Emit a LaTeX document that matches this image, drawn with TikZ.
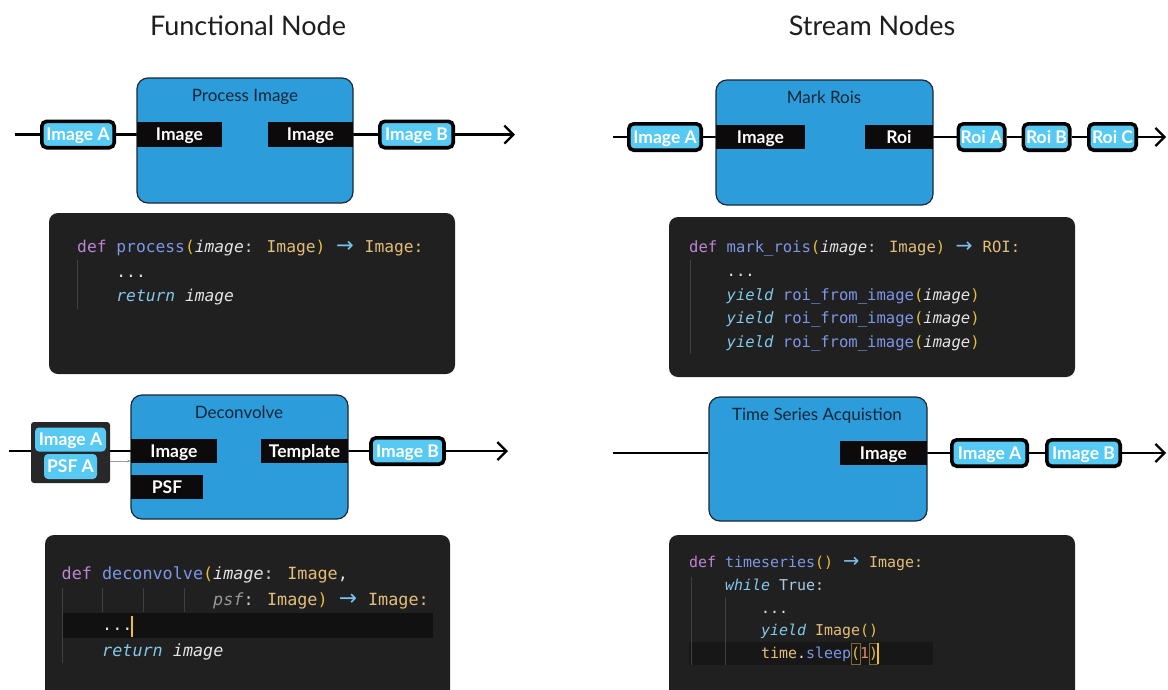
\documentclass[tikz,border=0pt]{standalone}
\usepackage{fontspec}
\usepackage{graphicx}
\setmainfont{Lato}
\newfontfamily\codefont{DejaVu Sans Mono}
\newfontfamily\arrowfont{DejaVu Sans}
\usetikzlibrary{arrows.meta}
\pgfdeclarelayer{paper}
\pgfdeclarelayer{wires}
\pgfsetlayers{paper,wires,main}

% node colours
\definecolor{boxblue}{RGB}{45,156,218}
\definecolor{boxedge}{RGB}{28,40,52}
\definecolor{titleink}{RGB}{22,38,56}
\definecolor{headink}{RGB}{30,30,30}
\definecolor{portink}{RGB}{12,10,10}
\definecolor{chipblue}{RGB}{86,202,242}
\definecolor{groupgray}{RGB}{40,40,40}
% editor colours
\definecolor{panel}{RGB}{32,32,32}
\definecolor{guidegray}{RGB}{64,64,64}
\definecolor{curline}{RGB}{17,17,17}
\definecolor{cursorink}{RGB}{242,190,40}
\definecolor{matchbox}{RGB}{125,108,50}
\definecolor{ckw}{RGB}{190,132,212}
\definecolor{cfn}{RGB}{125,150,230}
\definecolor{cpar}{RGB}{232,190,60}
\definecolor{cvar}{RGB}{228,228,228}
\definecolor{cpunc}{RGB}{200,205,215}
\definecolor{ctype}{RGB}{228,190,120}
\definecolor{carr}{RGB}{120,195,235}
\definecolor{cctl}{RGB}{130,200,235}
\definecolor{cdim}{RGB}{150,150,150}
\definecolor{cnum}{RGB}{235,135,105}
\definecolor{ctrue}{RGB}{165,205,232}

% syntax helpers
\newcommand\cxK[1]{\textcolor{ckw}{#1}}
\newcommand\cxF[1]{\textcolor{cfn}{#1}}
\newcommand\cxP[1]{\textcolor{cpar}{#1}}
\newcommand\cxV[1]{\textcolor{cvar}{\itshape #1}}
\newcommand\cxU[1]{\textcolor{cpunc}{#1}}
\newcommand\cxT[1]{\textcolor{ctype}{#1}}
\newcommand\cxA{\textcolor{carr}{\makebox[1.204em]{\arrowfont\scalebox{1.3}{→}}}}
\newcommand\cxC[1]{\textcolor{cctl}{\itshape #1}}
\newcommand\cxD[1]{\textcolor{cdim}{\itshape #1}}
\newcommand\cxN[1]{\textcolor{cnum}{#1}}
\newcommand\cxW[1]{\textcolor{cvar}{#1}}

\tikzset{
  blk/.style={draw=boxedge, line width=1.2pt, fill=boxblue, rounded corners=11pt, inner sep=0pt},
  ttl/.style={text=titleink, inner sep=0pt, text height=12.2pt, text depth=0pt,
    font=\fontsize{17}{20}\selectfont},
  head/.style={text=headink, inner sep=0pt, text height=19.4pt, text depth=0pt,
    font=\fontsize{27}{32}\selectfont},
  port/.style={fill=portink, inner sep=0pt, minimum height=24.5pt, text=white,
    text height=12.6pt, text depth=0pt, font=\bfseries\fontsize{17.5}{20}\selectfont},
  chip/.style={draw=black, line width=3.6pt, fill=chipblue, rounded corners=5pt, inner sep=0pt,
    minimum height=26.4pt, text=white, text height=12.6pt, text depth=0pt,
    font=\bfseries\fontsize{17.5}{20}\selectfont},
  subchip/.style={fill=chipblue, rounded corners=4pt, inner sep=0pt, minimum height=24pt,
    text=white, text height=12.6pt, text depth=0pt, font=\bfseries\fontsize{17.5}{20}\selectfont},
  wire/.style={line width=2.3pt, draw=black},
  flow/.style={wire, -{Straight Barb[length=9pt,width=18pt]}},
  codepanel/.style={fill=panel, rounded corners=9pt},
  guide/.style={draw=guidegray, line width=0.9pt},
  codeline/.style={anchor=base west, inner sep=0pt, text=cvar},
  codeA/.style={codeline, font=\codefont\fontsize{16.28}{20}\selectfont},
  codeB/.style={codeline, font=\codefont\fontsize{15.56}{20}\selectfont},
  codeC/.style={codeline, font=\codefont\fontsize{16.78}{20}\selectfont},
  codeD/.style={codeline, font=\codefont\fontsize{14.95}{20}\selectfont},
}

\begin{document}
\begin{tikzpicture}[x=1pt,y=-1pt]
\useasboundingbox (0,0) rectangle (1168,689);
\begin{pgfonlayer}{paper}
  \fill[white] (0,0) rectangle (1168,689);
\end{pgfonlayer}

% ---------- headings ----------
\node[head] (hFun) at (248,26) {Functional Node};
\node[head] (hStr) at (872,26) {Stream Nodes};

% ---------- Process Image ----------
\node[blk, minimum width=216pt, minimum height=125pt] (proc) at (245,140.5) {};
\node[ttl] (procT) at (245,95) {Process Image};
\node[port, minimum width=85pt] (procIn) at (179.5,134.5) {Image};
\node[port, minimum width=85pt] (procOut) at (310.5,134.5) {Image};
\node[chip, minimum width=72.4pt] (pA) at (78,134.5) {Image A};
\node[chip, minimum width=73.4pt] (pB) at (416.5,134.5) {Image B};
\coordinate (pS) at (15,134.5);
\coordinate (pE) at (515,134.5);
\begin{pgfonlayer}{wires}
  \draw[wire] (pS) -- (pA.west);
  \draw[wire] (pA.east) -- (procIn.west);
  \draw[wire] (procOut.east) -- (pB.west);
  \draw[flow] (pB.east) -- (pE);
\end{pgfonlayer}

% ---------- Mark Rois ----------
\node[blk, minimum width=217pt, minimum height=125pt] (mark) at (824.5,142.5) {};
\node[ttl] (markT) at (824,97) {Mark Rois};
\node[port, minimum width=89pt] (markIn) at (760.5,137) {Image};
\node[port, minimum width=68pt] (markOut) at (899,137) {Roi};
\node[chip, minimum width=72.4pt] (mA) at (665,137) {Image A};
\node[chip, minimum width=46.4pt] (rA) at (981.5,137) {Roi A};
\node[chip, minimum width=46.4pt] (rB) at (1046.5,137) {Roi B};
\node[chip, minimum width=47.4pt] (rC) at (1112.5,137) {Roi C};
\coordinate (mS) at (613,137);
\coordinate (mE) at (1166,137);
\begin{pgfonlayer}{wires}
  \draw[wire] (mS) -- (mA.west);
  \draw[wire] (mA.east) -- (markIn.west);
  \draw[wire] (markOut.east) -- (rA.west);
  \draw[wire] (rA.east) -- (rB.west);
  \draw[wire] (rB.east) -- (rC.west);
  \draw[flow] (rC.east) -- (mE);
\end{pgfonlayer}

% ---------- Deconvolve ----------
\node[blk, minimum width=217pt, minimum height=124pt] (dec) at (239.5,457) {};
\node[ttl] (decT) at (239,412) {Deconvolve};
\node[port, minimum width=86pt] (decIn) at (174,451) {Image};
\node[port, minimum width=72pt] (decPsf) at (167,487) {PSF};
\node[port, minimum width=87pt] (decOut) at (304.5,451) {Template};
\node[fill=groupgray, rounded corners=3pt, minimum width=79pt, minimum height=61pt, inner sep=0pt]
  (grp) at (70.5,452.5) {};
\node[subchip, minimum width=71pt] (gA) at (70.5,439.5) {Image A};
\node[subchip, minimum width=53pt, minimum height=25pt] (gP) at (70.5,466.5) {PSF A};
\node[chip, minimum width=73pt] (dB) at (407.5,451) {Image B};
\coordinate (dS) at (9,451);
\coordinate (dE) at (508,451);
\begin{pgfonlayer}{wires}
  \draw[wire] (dS) -- (decIn.west);
  \draw[wire] (decOut.east) -- (dB.west);
  \draw[flow] (dB.east) -- (dE);
\end{pgfonlayer}
\draw[draw=gray!80, line width=0.8pt, -{Stealth[length=3pt,width=3pt]}]
  ([yshift=-8.5pt]grp.east) -- ([yshift=-8.5pt]grp.east -| dec.west);

% ---------- Time Series Acquistion ----------
\node[blk, minimum width=218pt, minimum height=124pt] (ts) at (818,459) {};
\node[ttl] (tsT) at (817,414) {Time Series Acquistion};
\node[port, minimum width=87pt] (tsOut) at (883.5,453) {Image};
\node[chip, minimum width=75.4pt] (tA) at (989.5,453) {Image A};
\node[chip, minimum width=73.4pt] (tB) at (1083.5,453) {Image B};
\coordinate (tS) at (613,453);
\coordinate (tE) at (1166,453);
\begin{pgfonlayer}{wires}
  \draw[wire] (tS) -- (ts.west |- tsOut);
  \draw[wire] (tsOut.east) -- (tA.west);
  \draw[wire] (tA.east) -- (tB.west);
  \draw[flow] (tB.east) -- (tE);
\end{pgfonlayer}

% ---------- code: process ----------
\fill[codepanel] (49,213) rectangle (455,374);
\draw[guide] (77.5,260) -- (77.5,309);
\node[codeA] (c1a) at (77,252.5) {\cxK{def} \cxF{process}\cxP{(}\cxV{image}\cxU{:} \cxT{Image}\cxP{)} \cxA{} \cxT{Image:}};
\node[codeA] (c1b) at (116.2,277) {\cxW{...}};
\node[codeA] (c1c) at (116.2,301.5) {\cxC{return} \cxV{image}};

% ---------- code: mark_rois ----------
\fill[codepanel] (669,217) rectangle (1075,377);
\draw[guide] (690,260) -- (690,354);
\node[codeB] (c2a) at (689,252.5) {\cxK{def} \cxF{mark\_rois}\cxP{(}\cxV{image}\cxU{:} \cxT{Image}\cxP{)} \cxA{} \cxT{ROI:}};
\node[codeB] (c2b) at (726.5,276) {\cxW{...}};
\node[codeB] (c2c) at (726.5,300) {\cxC{yield} \cxF{roi\_from\_image}\cxP{(}\cxV{image}\cxP{)}};
\node[codeB] (c2d) at (726.5,323.5) {\cxC{yield} \cxF{roi\_from\_image}\cxP{(}\cxV{image}\cxP{)}};
\node[codeB] (c2e) at (726.5,347) {\cxC{yield} \cxF{roi\_from\_image}\cxP{(}\cxV{image}\cxP{)}};

% ---------- code: deconvolve ----------
\fill[codepanel] (45,535) rectangle (450,700);
\fill[curline] (62,613) rectangle (433,638);
\draw[guide] (62.5,588) -- (62.5,663);
\draw[guide] (102.5,588) -- (102.5,612);
\draw[guide] (143,588) -- (143,612);
\draw[guide] (184,588) -- (184,612);
\fill[cursorink] (130.8,616) rectangle (133.3,637);
\node[codeC] (c3a) at (61.5,579.5) {\cxK{def} \cxF{deconvolve}\cxP{(}\cxV{image}\cxU{:} \cxT{Image}\cxW{,}};
\node[codeC] (c3b) at (213,605) {\cxD{psf}\cxU{:} \cxT{Image}\cxP{)} \cxA{} \cxT{Image:}};
\node[codeC] (c3c) at (102,630.5) {\cxW{...}};
\node[codeC] (c3d) at (102,656) {\cxC{return} \cxV{image}};

% ---------- code: timeseries ----------
\fill[codepanel] (669,535) rectangle (1075,700);
\fill[curline!60!panel] (689,642) rectangle (933,665);
\draw[guide] (691,577) -- (691,665);
\draw[guide] (725.5,597) -- (725.5,665);
\draw[matchbox, line width=0.8pt] (851.5,643) rectangle (860,664);
\draw[matchbox, line width=0.8pt] (869,643) rectangle (877.5,664);
\fill[cursorink] (877,643) rectangle (879.2,664);
\node[codeD] (c4a) at (689,567.5) {\cxK{def} \cxF{timeseries}\cxP{()} \cxA{} \cxT{Image:}};
\node[codeD] (c4b) at (725,590.5) {\cxC{while} \textcolor{ctrue}{True}\cxU{:}};
\node[codeD] (c4c) at (761,613) {\cxW{...}};
\node[codeD] (c4d) at (761,635.5) {\cxC{yield} \cxT{Image}\cxP{()}};
\node[codeD] (c4e) at (761,658) {\cxT{time}\cxW{.}\cxF{sleep}\cxP{(}\cxN{1}\cxP{)}};
\end{tikzpicture}
\end{document}
